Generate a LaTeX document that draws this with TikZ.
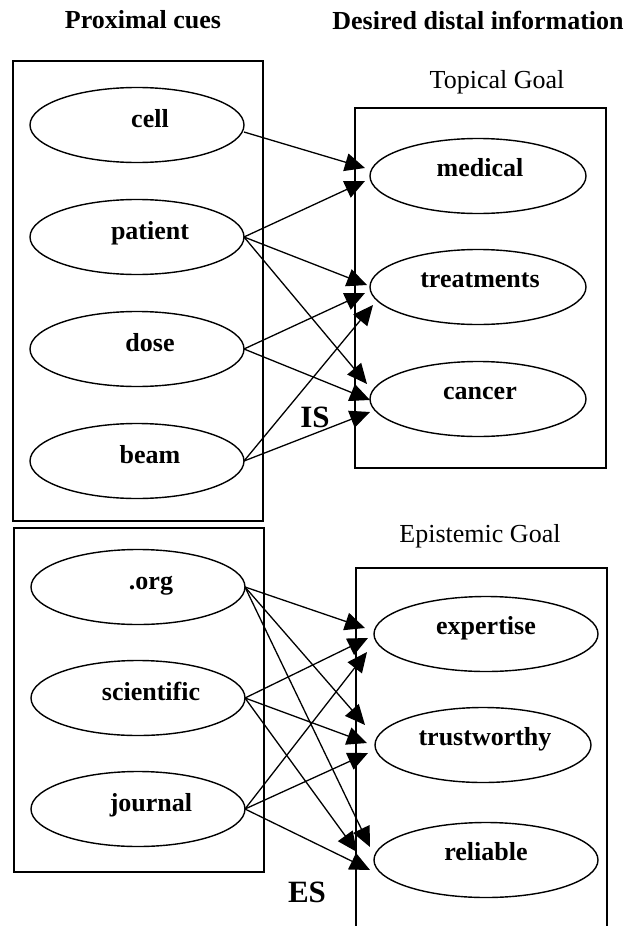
\documentclass[tikz,border=0pt]{standalone}
\usepackage{fontspec}
\setmainfont{Liberation Serif}
\usetikzlibrary{shapes.geometric,arrows.meta}

\begin{document}
\begin{tikzpicture}[y=1pt, x=1pt, yscale=-1, inner sep=0pt, outer sep=0pt,
  cue/.style={draw=black, line width=1.4pt, ellipse, minimum width=214pt, minimum height=75pt},
  goal/.style={draw=black, line width=1.4pt, ellipse, minimum width=216pt, minimum height=75pt},
  word/.style={font=\fontsize{26}{30}\selectfont\bfseries, anchor=base},
  head/.style={font=\fontsize{26}{30}\selectfont\bfseries},
  goalname/.style={font=\fontsize{26}{30}\selectfont},
  tag/.style={font=\fontsize{31}{36}\selectfont\bfseries},
  frame/.style={draw=black, line width=1.6pt},
  link/.style={draw=black, line width=1.3pt, -{Triangle[length=20pt, width=18pt]}}]
\useasboundingbox (0,0) rectangle (631,926);

% headings
\node[head] (proximal) at (143,20) {Proximal cues};
\node[head] (distal) at (478,20) {Desired distal information};
\node[goalname] (topical) at (497,82) {Topical Goal};
\node[goalname] (epistemic) at (480,536) {Epistemic Goal};

% frames
\path[frame] (13,61) rectangle (263,521);
\path[frame] (14,528) rectangle (264,872);
\path[frame] (355,108) rectangle (606,468);
\path[frame] (356,568) rectangle (607,940);

% proximal cues, topical part
\node[cue] (cell) at (137,125) {};
\node[cue] (patient) at (137,237) {};
\node[cue] (dose) at (137,349) {};
\node[cue] (beam) at (137,461) {};
\node[word] (celltext) at ([xshift=13pt,yshift=2pt]cell.center) {cell};
\node[word] (patienttext) at ([xshift=13pt,yshift=2pt]patient.center) {patient};
\node[word] (dosetext) at ([xshift=13pt,yshift=2pt]dose.center) {dose};
\node[word] (beamtext) at ([xshift=13pt,yshift=2pt]beam.center) {beam};

% proximal cues, epistemic part
\node[cue] (org) at (138,587) {};
\node[cue] (scientific) at (138,698) {};
\node[cue] (journal) at (138,809) {};
\node[word] (orgtext) at ([xshift=13pt,yshift=2pt]org.center) {.org};
\node[word] (scientifictext) at ([xshift=13pt,yshift=2pt]scientific.center) {scientific};
\node[word] (journaltext) at ([xshift=13pt,yshift=2pt]journal.center) {journal};

% topical goal
\node[goal] (medical) at (478,176) {};
\node[goal] (treatments) at (478,287) {};
\node[goal] (cancer) at (478,399) {};
\node[word] (medicaltext) at ([xshift=2pt]medical.center) {medical};
\node[word] (treatmentstext) at ([xshift=2pt]treatments.center) {treatments};
\node[word] (cancertext) at ([xshift=2pt]cancer.center) {cancer};

% epistemic goal
\node[goal, minimum width=224pt] (expertise) at (486,634) {};
\node[goal] (trustworthy) at (483,745) {};
\node[goal, minimum width=224pt] (reliable) at (486,860) {};
\node[word] (expertisetext) at (expertise.center) {expertise};
\node[word] (trustworthytext) at ([xshift=2pt]trustworthy.center) {trustworthy};
\node[word] (reliabletext) at (reliable.center) {reliable};

\node[tag] (is) at (315,417) {IS};
\node[tag] (es) at (307,892) {ES};

% links, topical
\draw[link] ([yshift=7pt]cell.east) -- ([xshift=-5pt,yshift=-8pt]medical.west);
\draw[link] (patient.east) -- ([xshift=-5pt,yshift=5pt]medical.west);
\draw[link] (patient.east) -- ([xshift=-3pt,yshift=-2pt]treatments.west);
\draw[link] (patient.east) -- ([xshift=-3pt,yshift=-15pt]cancer.west);
\draw[link] (dose.east) -- ([xshift=-5pt,yshift=6pt]treatments.west);
\draw[link] (dose.east) -- ([yshift=1pt]cancer.west);
\draw[link] (beam.east) -- ([xshift=3pt,yshift=18pt]treatments.west);
\draw[link] (beam.east) -- ([yshift=13pt]cancer.west);

% links, epistemic
\draw[link] (org.east) -- ([xshift=-9pt,yshift=-6pt]expertise.west);
\draw[link] (org.east) -- ([xshift=-10pt,yshift=-20pt]trustworthy.west);
\draw[link] (org.east) -- ([xshift=-4pt,yshift=-13pt]reliable.west);
\draw[link] (scientific.east) -- ([xshift=-6pt,yshift=4pt]expertise.west);
\draw[link] (scientific.east) -- ([xshift=-8pt,yshift=-2pt]trustworthy.west);
\draw[link] (scientific.east) -- ([xshift=-17pt,yshift=-8pt]reliable.west);
\draw[link] (journal.east) -- ([xshift=-7pt,yshift=18pt]expertise.west);
\draw[link] (journal.east) -- ([xshift=-7pt,yshift=8pt]trustworthy.west);
\draw[link] (journal.east) -- ([xshift=-4pt,yshift=10pt]reliable.west);

\end{tikzpicture}
\end{document}
